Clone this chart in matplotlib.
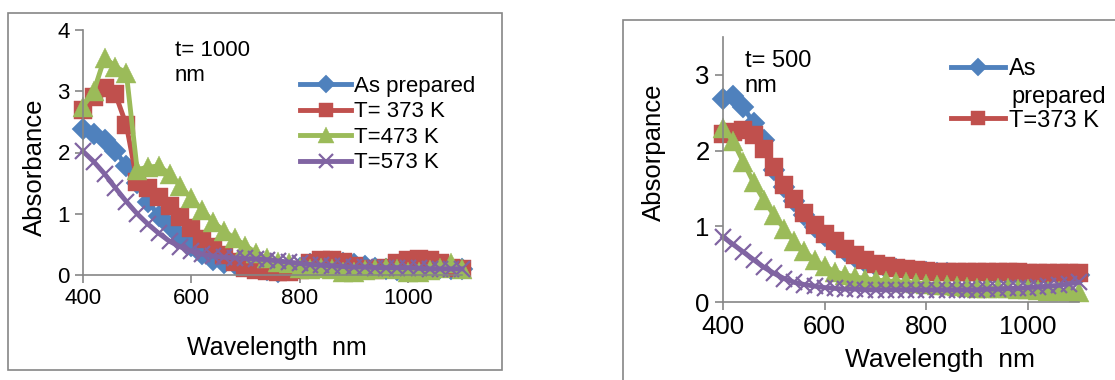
import numpy as np
import matplotlib
matplotlib.use("Agg")
import matplotlib.pyplot as plt
from matplotlib.patches import Rectangle

plt.rcParams['font.family'] = ['Liberation Sans', 'DejaVu Sans']

# wavelength grid (nm)
wavelength = list(range(400, 1101, 20))

# t = 1000 nm film
thick_as_prep = [2.38, 2.30, 2.20, 2.02, 1.78, 1.50, 1.20, 0.97, 0.80, 0.63, 0.47, 0.34,
                 0.25, 0.20, 0.18, 0.15, 0.12, 0.08, 0.05, 0.08, 0.12, 0.18, 0.20, 0.22,
                 0.20, 0.18, 0.15, 0.12, 0.10, 0.08, 0.08, 0.10, 0.12, 0.12, 0.10, 0.10]
thick_373 = [2.70, 2.90, 3.05, 2.95, 2.45, 1.52, 1.42, 1.28, 1.12, 0.95, 0.76, 0.58,
             0.45, 0.33, 0.22, 0.12, 0.08, 0.06, 0.05, 0.05, 0.08, 0.20, 0.25, 0.25,
             0.22, 0.15, 0.10, 0.08, 0.12, 0.20, 0.25, 0.26, 0.24, 0.20, 0.12, 0.10]
thick_473 = [2.75, 3.00, 3.55, 3.40, 3.30, 1.72, 1.76, 1.78, 1.65, 1.45, 1.25, 1.06,
             0.87, 0.72, 0.60, 0.48, 0.36, 0.27, 0.22, 0.20, 0.12, 0.10, 0.12, 0.10,
             0.05, 0.05, 0.08, 0.10, 0.12, 0.10, 0.05, 0.05, 0.08, 0.12, 0.20, 0.10]
thick_573 = [2.02, 1.85, 1.65, 1.42, 1.20, 1.00, 0.83, 0.68, 0.55, 0.46, 0.39, 0.34,
             0.31, 0.29, 0.28, 0.27, 0.26, 0.25, 0.23, 0.21, 0.19, 0.17, 0.16, 0.15,
             0.14, 0.13, 0.13, 0.12, 0.12, 0.12, 0.12, 0.11, 0.10, 0.10, 0.10, 0.10]

# t = 500 nm film
thin_as_prep = [2.68, 2.72, 2.58, 2.36, 2.14, 1.75, 1.52, 1.33, 1.15, 0.99, 0.87, 0.77,
                0.68, 0.60, 0.53, 0.48, 0.45, 0.43, 0.41, 0.40, 0.39, 0.38, 0.38, 0.37,
                0.37, 0.37, 0.37, 0.37, 0.37, 0.37, 0.36, 0.36, 0.36, 0.36, 0.36, 0.36]
thin_373 = [2.22, 2.25, 2.27, 2.20, 2.02, 1.78, 1.55, 1.36, 1.18, 1.02, 0.90, 0.80,
            0.70, 0.62, 0.55, 0.50, 0.47, 0.45, 0.43, 0.42, 0.41, 0.40, 0.40, 0.39,
            0.39, 0.39, 0.39, 0.39, 0.39, 0.39, 0.38, 0.38, 0.38, 0.38, 0.38, 0.38]
thin_473 = [2.30, 2.12, 1.85, 1.58, 1.35, 1.15, 0.97, 0.80, 0.67, 0.55, 0.47, 0.40,
            0.36, 0.33, 0.31, 0.29, 0.28, 0.27, 0.26, 0.25, 0.24, 0.23, 0.22, 0.21,
            0.20, 0.19, 0.19, 0.18, 0.18, 0.17, 0.17, 0.16, 0.15, 0.15, 0.14, 0.13]
thin_573 = [0.86, 0.76, 0.66, 0.56, 0.46, 0.38, 0.31, 0.26, 0.23, 0.21, 0.19, 0.18,
            0.17, 0.17, 0.16, 0.16, 0.16, 0.16, 0.16, 0.16, 0.16, 0.16, 0.16, 0.16,
            0.16, 0.16, 0.17, 0.17, 0.18, 0.18, 0.19, 0.20, 0.21, 0.22, 0.24, 0.26]

labels_left = ["As prepared", "T= 373 K", "T=473 K", "T=573 K"]
colors = ["#4F81BD", "#C0504D", "#9BBB59", "#8064A2"]
markers = ["D", "s", "^", "x"]
msizes = [11, 13, 14.5, 12]
gray = "#868686"

fig = plt.figure(figsize=(11.15, 3.8), dpi=100)

# chart frames
fig.patches.append(Rectangle((8 / 1115, 1 - 370 / 380), 494 / 1115, 357 / 380,
                             transform=fig.transFigure, fill=False, ec=gray, lw=1.2))
fig.patches.append(Rectangle((623 / 1115, -0.05), 0.5, 1 - 20 / 380 + 0.05,
                             transform=fig.transFigure, fill=False, ec=gray, lw=1.2))

def style_axes(ax, size):
    for s in ["top", "right"]:
        ax.spines[s].set_visible(False)
    for s in ["left", "bottom"]:
        ax.spines[s].set_color(gray)
        ax.spines[s].set_linewidth(1.2)
    ax.tick_params(direction="out", length=6, width=1.2, color=gray, labelsize=size)
    ax.set_xlim(400, 1100)
    ax.set_xticks([400, 600, 800, 1000])

def draw(ax, series):
    lines = []
    for ys, c, m, ms in zip(series, colors, markers, msizes):
        ln, = ax.plot(wavelength, ys, color=c, lw=3.5, marker=m, markersize=ms,
                      mew=1.6 if m == "x" else 0.3, mec=c, mfc=c, clip_on=False)
        lines.append(ln)
    return lines

# left panel: t = 1000 nm
ax1 = fig.add_axes([83 / 1115, 105 / 380, 379 / 1115, 245 / 380])
style_axes(ax1, 16)
h1 = draw(ax1, [thick_as_prep, thick_373, thick_473, thick_573])
ax1.set_ylim(0, 4)
ax1.set_yticks([0, 1, 2, 3, 4])
ax1.set_xlabel("Wavelength  nm", fontsize=18)
ax1.xaxis.set_label_coords(0.512, -0.25)
ax1.set_ylabel("Absorbance", fontsize=18.5)
ax1.yaxis.set_label_coords(-0.095, 0.44)
ax1.text(570, 3.84, "t= 1000\nnm", fontsize=16, va="top", ha="left", linespacing=1.25)
fig.legend(h1, labels_left, loc="upper left", bbox_to_anchor=(300 / 1115, 1 - 76 / 380),
           frameon=False, fontsize=16, handlelength=2.3, handletextpad=0.15,
           labelspacing=0.2, borderpad=0, borderaxespad=0, markerscale=0.8)

# right panel: t = 500 nm
ax2 = fig.add_axes([723 / 1115, 78 / 380, 356 / 1115, 265 / 380])
style_axes(ax2, 18.5)
h2 = draw(ax2, [thin_as_prep, thin_373, thin_473, thin_573])
ax2.set_ylim(0, 3.5)
ax2.set_yticks([0, 1, 2, 3])
ax2.set_xlabel("Wavelength  nm", fontsize=19)
ax2.xaxis.set_label_coords(0.61, -0.175)
ax2.set_ylabel("Absorpance", fontsize=18.5)
ax2.yaxis.set_label_coords(-0.16, 0.566)
ax2.text(443, 3.33, "t= 500\nnm", fontsize=17, va="top", ha="left", linespacing=1.2)
fig.legend(h2[:2], ["As", "T=373 K"], loc="upper left",
           bbox_to_anchor=(951 / 1115, 1 - 58 / 380),
           frameon=False, fontsize=17, handlelength=2.3, handletextpad=0.15,
           labelspacing=1.25, borderpad=0, borderaxespad=0, markerscale=0.8)
fig.text(1011 / 1115, 1 - 97 / 380, "prepared", fontsize=17, va="center", ha="left")

fig.savefig("out.png", dpi=100)
